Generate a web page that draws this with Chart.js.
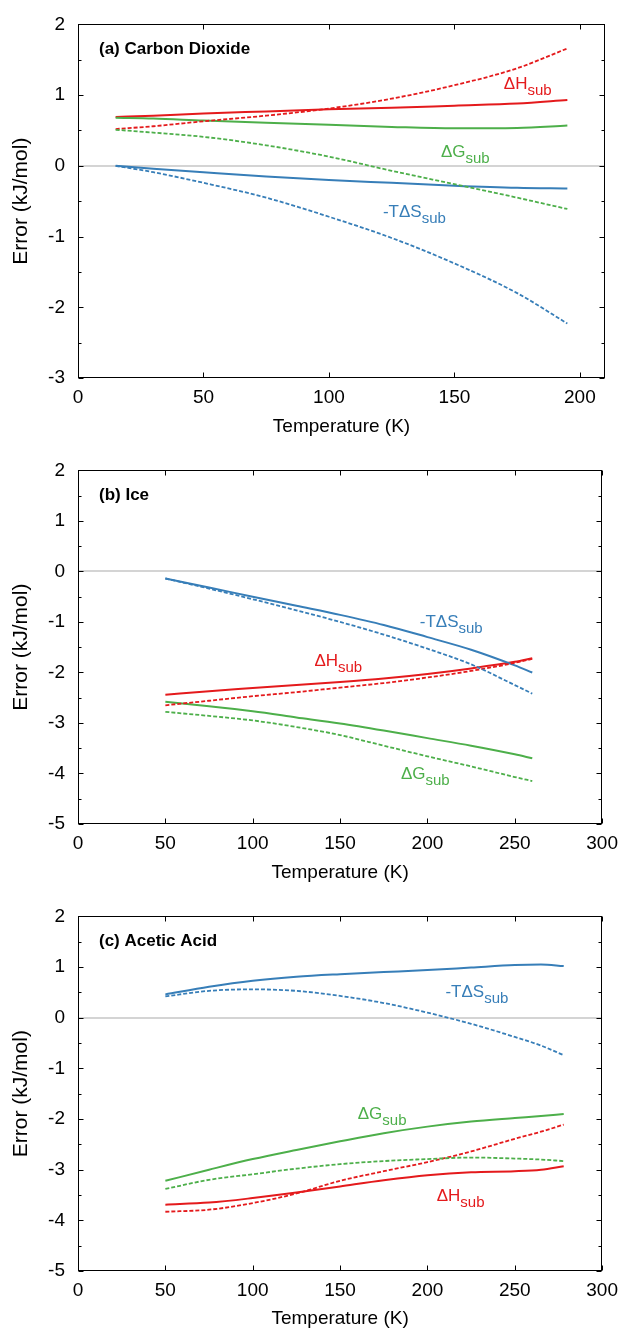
<!DOCTYPE html>
<html>
<head>
<meta charset="utf-8">
<script src="https://cdn.jsdelivr.net/npm/chart.js@4.4.1/dist/chart.umd.min.js"></script>
<style>
html, body { margin: 0; padding: 0; background: #fff; overflow: hidden; }
canvas { display: block; }
</style>
</head>
<body>
<canvas id="grapheCO2" width="626" height="446"></canvas>
<canvas id="grapheGlace" width="626" height="446"></canvas>
<canvas id="grapheAcide" width="626" height="446"></canvas>
<script>
// graduations de l'axe des temperatures
var ticksCO2 = [0, 50, 100, 150, 200];
var ticksAutres = [0, 50, 100, 150, 200, 250, 300];

// (a) dioxyde de carbone : erreur en kJ/mol selon T (K), trait plein / pointilles
var tempCO2 = [15, 30, 50, 75, 100, 125, 150, 175, 195];
var dH_CO2 = [0.69, 0.71, 0.74, 0.77, 0.80, 0.82, 0.85, 0.88, 0.93];
var dH_CO2_pts = [0.52, 0.56, 0.63, 0.71, 0.81, 0.95, 1.14, 1.38, 1.66];
var dG_CO2 = [0.68, 0.67, 0.64, 0.61, 0.58, 0.55, 0.53, 0.535, 0.57];
var dG_CO2_pts = [0.51, 0.47, 0.41, 0.29, 0.13, -0.07, -0.26, -0.45, -0.61];
var TdS_CO2 = [0.0, -0.04, -0.09, -0.15, -0.20, -0.24, -0.28, -0.31, -0.32];
var TdS_CO2_pts = [0.0, -0.09, -0.24, -0.45, -0.72, -1.02, -1.38, -1.80, -2.23];

// (b) glace
var tempGlace = [50, 75, 100, 125, 150, 175, 200, 225, 250, 260];
var dH_glace = [-2.44, -2.37, -2.31, -2.25, -2.19, -2.12, -2.03, -1.92, -1.79, -1.72];
var dH_glace_pts = [-2.65, -2.56, -2.47, -2.39, -2.30, -2.21, -2.10, -1.97, -1.81, -1.73];
var dG_glace = [-2.58, -2.67, -2.77, -2.89, -3.01, -3.15, -3.30, -3.45, -3.62, -3.70];
var dG_glace_pts = [-2.78, -2.86, -2.95, -3.08, -3.24, -3.45, -3.66, -3.86, -4.07, -4.15];
var TdS_glace = [-0.14, -0.32, -0.50, -0.68, -0.86, -1.06, -1.30, -1.55, -1.86, -2.00];
var TdS_glace_pts = [-0.14, -0.34, -0.55, -0.77, -1.00, -1.25, -1.53, -1.84, -2.25, -2.42];

// (c) acide acetique
var tempAcide = [50, 75, 100, 125, 150, 175, 200, 225, 250, 265, 278];
var dH_acide = [-3.69, -3.65, -3.56, -3.45, -3.33, -3.21, -3.11, -3.05, -3.03, -3.00, -2.93];
var dH_acide_pts = [-3.83, -3.79, -3.66, -3.47, -3.22, -3.03, -2.85, -2.64, -2.39, -2.25, -2.11];
var dG_acide = [-3.22, -3.00, -2.79, -2.61, -2.44, -2.28, -2.15, -2.05, -1.98, -1.94, -1.90];
var dG_acide_pts = [-3.38, -3.20, -3.09, -2.98, -2.89, -2.83, -2.79, -2.76, -2.78, -2.80, -2.83];
var TdS_acide = [0.46, 0.61, 0.73, 0.81, 0.86, 0.90, 0.94, 0.99, 1.04, 1.05, 1.02];
var TdS_acide_pts = [0.42, 0.53, 0.56, 0.53, 0.43, 0.29, 0.10, -0.12, -0.38, -0.55, -0.74];

var rouge = "#e41a1c";
var vert = "#4daf4a";
var bleu = "#377eb8";
var police = '"Liberation Sans", Arial, Helvetica, sans-serif';

Chart.defaults.font.family = police;
Chart.defaults.color = "#000";

function points(temps, valeurs) {
  return valeurs.map(function (v, i) { return { x: temps[i], y: v }; });
}

function serie(temps, valeurs, couleur, pointille) {
  return {
    data: points(temps, valeurs),
    borderColor: couleur,
    borderWidth: pointille ? 1.8 : 2,
    borderDash: pointille ? [4, 2] : [],
    pointRadius: 0,
    fill: false,
    cubicInterpolationMode: "monotone"
  };
}

// cadre complet + graduations vers l'interieur, titre du panneau, etiquettes
var cadre = {
  id: "cadre",
  afterDatasetsDraw: function (chart) {
    var ctx = chart.ctx, a = chart.chartArea;
    var sx = chart.scales.x, sy = chart.scales.y;
    var opt = chart.options.plugins.cadre;
    var g = Math.round(a.left) + 0.5, d = Math.round(a.right) - 0.5;
    var h = Math.round(a.top) + 0.5, b = Math.round(a.bottom) - 0.5;
    ctx.save();
    ctx.strokeStyle = "#000";
    ctx.lineWidth = 1;
    ctx.beginPath();
    sx.ticks.forEach(function (t) {
      var px = Math.round(sx.getPixelForValue(t.value)) + 0.5;
      ctx.moveTo(px, b); ctx.lineTo(px, b - 5);
      ctx.moveTo(px, h); ctx.lineTo(px, h + 5);
    });
    sy.ticks.forEach(function (t) {
      var py = Math.round(sy.getPixelForValue(t.value)) + 0.5;
      var l = Number.isInteger(t.value) ? 5 : 3;
      ctx.moveTo(g, py); ctx.lineTo(g + l, py);
      ctx.moveTo(d, py); ctx.lineTo(d - l, py);
    });
    ctx.stroke();
    ctx.strokeRect(g, h, d - g, b - h);

    ctx.fillStyle = "#000";
    ctx.font = "bold 17px " + police;
    ctx.textBaseline = "middle";
    ctx.textAlign = "left";
    ctx.fillText(opt.titre, a.left + 21, a.top + 25);

    ctx.textBaseline = "alphabetic";
    opt.etiquettes.forEach(function (e) {
      var x = sx.getPixelForValue(e.t);
      var y = sy.getPixelForValue(e.v);
      ctx.fillStyle = e.couleur;
      ctx.font = "17px " + police;
      ctx.fillText(e.texte, x, y);
      var w = ctx.measureText(e.texte).width;
      ctx.font = "15px " + police;
      ctx.fillText("sub", x + w, y + 6);
    });
    ctx.restore();
  }
};

function graphe(id, titre, jeux, graduations, xMax, yMin, haut, basX, etiquettes) {
  new Chart(document.getElementById(id), {
    type: "line",
    data: { datasets: jeux },
    plugins: [cadre],
    options: {
      responsive: false,
      animation: false,
      devicePixelRatio: 1,
      layout: { padding: { top: haut, right: 21, left: 0, bottom: 0 } },
      plugins: {
        legend: { display: false },
        tooltip: { enabled: false },
        cadre: { titre: titre, etiquettes: etiquettes }
      },
      scales: {
        x: {
          type: "linear",
          min: 0,
          max: xMax,
          afterBuildTicks: function (axe) {
            axe.ticks = graduations.map(function (v) { return { value: v }; });
          },
          afterFit: function (axe) { axe.height = basX; },
          ticks: { autoSkip: false, maxRotation: 0, padding: 8,
                   font: { size: 19 }, color: "#000" },
          grid: { display: false, drawTicks: false },
          border: { display: false },
          title: { display: true, text: "Temperature (K)", color: "#000",
                   font: { size: 19 }, padding: { top: 0, bottom: 8 } }
        },
        y: {
          min: yMin,
          max: 2,
          afterFit: function (axe) { axe.width = 78; },
          ticks: {
            stepSize: 0.5,
            autoSkip: false,
            padding: 13,
            font: { size: 19 },
            color: "#000",
            callback: function (v) { return Number.isInteger(v) ? String(v) : ""; }
          },
          grid: {
            drawTicks: false,
            color: function (c) { return c.tick && c.tick.value === 0 ? "#d4d4d4" : "rgba(0,0,0,0)"; },
            lineWidth: 2
          },
          border: { display: false },
          title: { display: true, text: "Error (kJ/mol)", color: "#000",
                   font: { size: 21 }, padding: { top: 9, bottom: 0 } }
        }
      }
    }
  });
}

graphe("grapheCO2", "(a) Carbon Dioxide", [
  serie(tempCO2, TdS_CO2_pts, bleu, true),
  serie(tempCO2, dG_CO2_pts, vert, true),
  serie(tempCO2, dH_CO2_pts, rouge, true),
  serie(tempCO2, TdS_CO2, bleu, false),
  serie(tempCO2, dG_CO2, vert, false),
  serie(tempCO2, dH_CO2, rouge, false)
], ticksCO2, 210, -3, 20, 68, [
  { texte: "\u0394H", t: 169.7, v: 1.08, couleur: rouge },
  { texte: "\u0394G", t: 144.6, v: 0.13, couleur: vert },
  { texte: "-T\u0394S", t: 121.5, v: -0.72, couleur: bleu }
]);

graphe("grapheGlace", "(b) Ice", [
  serie(tempGlace, TdS_glace_pts, bleu, true),
  serie(tempGlace, dG_glace_pts, vert, true),
  serie(tempGlace, dH_glace_pts, rouge, true),
  serie(tempGlace, TdS_glace, bleu, false),
  serie(tempGlace, dG_glace, vert, false),
  serie(tempGlace, dH_glace, rouge, false)
], ticksAutres, 300, -5, 21, 68, [
  { texte: "-T\u0394S", t: 195.6, v: -1.10, couleur: bleu },
  { texte: "\u0394H", t: 135.3, v: -1.88, couleur: rouge },
  { texte: "\u0394G", t: 184.8, v: -4.10, couleur: vert }
]);

graphe("grapheAcide", "(c) Acetic Acid", [
  serie(tempAcide, TdS_acide_pts, bleu, true),
  serie(tempAcide, dG_acide_pts, vert, true),
  serie(tempAcide, dH_acide_pts, rouge, true),
  serie(tempAcide, TdS_acide, bleu, false),
  serie(tempAcide, dG_acide, vert, false),
  serie(tempAcide, dH_acide, rouge, false)
], ticksAutres, 300, -5, 21, 67, [
  { texte: "-T\u0394S", t: 210.3, v: 0.41, couleur: bleu },
  { texte: "\u0394G", t: 160.1, v: -2.0, couleur: vert },
  { texte: "\u0394H", t: 205.3, v: -3.61, couleur: rouge }
]);
</script>
</body>
</html>
